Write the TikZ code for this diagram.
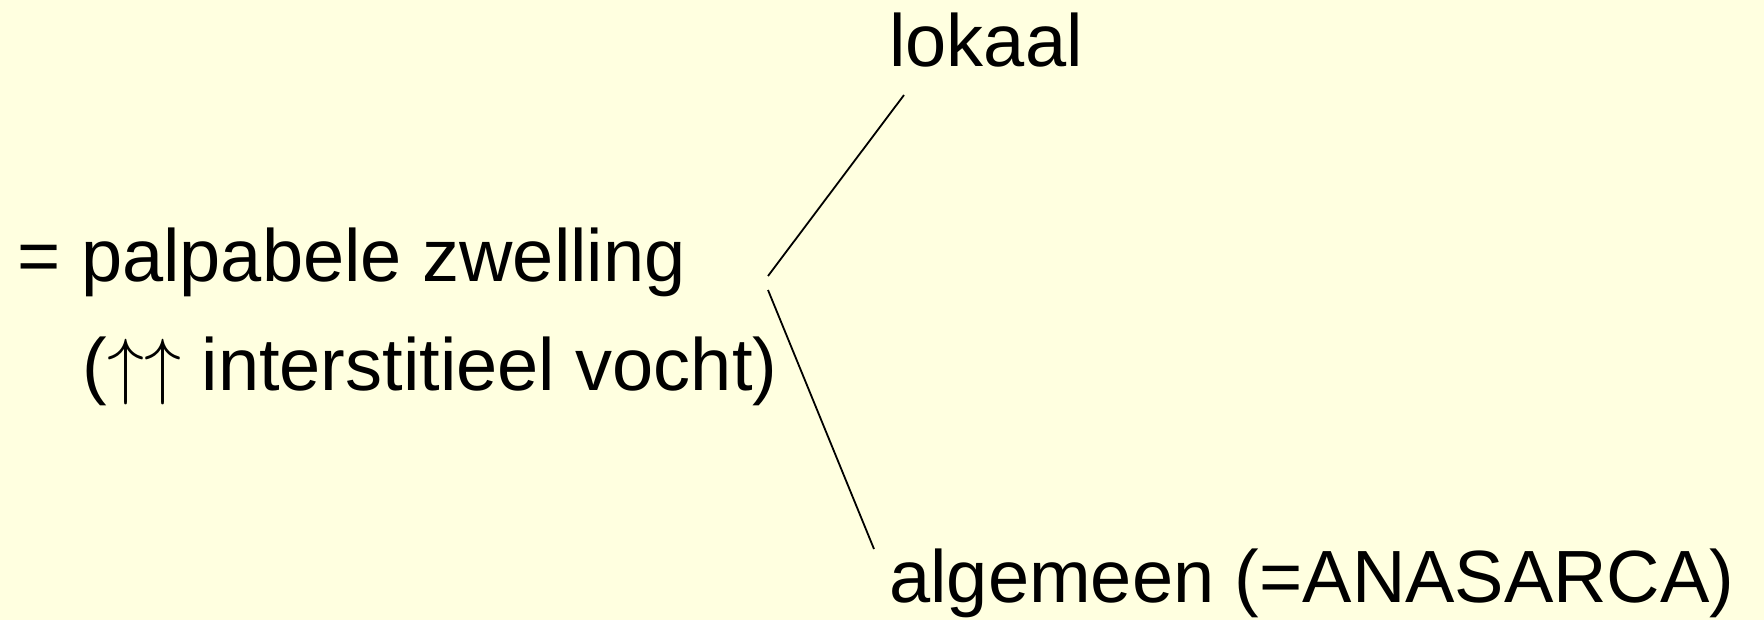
\RequirePackage{fix-cm}
\documentclass[tikz,border=0pt]{standalone}
\usepackage{fontspec}
\setmainfont{Liberation Sans}
\definecolor{bg}{HTML}{FFFFE0}
\begin{document}
\begin{tikzpicture}[x=0.5pt,y=-0.5pt,
  txt/.style={anchor=base west,inner sep=0pt,font=\fontsize{37}{44}\selectfont},
  conn/.style={draw=black,line width=0.9pt}]
\fill[bg] (0,0) rectangle (1764,620);
\useasboundingbox (0,0) rectangle (1764,620);
\node[txt] (def) at (17,281) {= palpabele zwelling};
\node[txt] (expl) at (82,390) {($\uparrow\uparrow$ interstitieel vocht)};
\node[txt] (lok) at (889,67) {lokaal};
\node[txt] (alg) at (889,602) {algemeen (=ANASARCA)};
\coordinate (s1) at (768,276);
\coordinate (e1) at (904,95);
\coordinate (s2) at (768,290);
\coordinate (e2) at (874,549);
\draw[conn] (s1) -- (e1);
\draw[conn] (s2) -- (e2);
\end{tikzpicture}
\end{document}
